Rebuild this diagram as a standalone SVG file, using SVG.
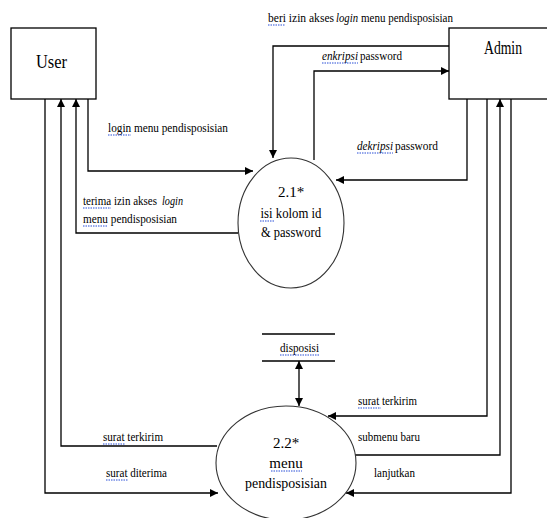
<svg xmlns="http://www.w3.org/2000/svg" width="547" height="518" viewBox="0 0 547 518">
<defs>
<marker id="ah" viewBox="0 0 10 10" refX="10" refY="5" markerWidth="9" markerHeight="8" markerUnits="userSpaceOnUse" orient="auto-start-reverse">
<path d="M0,0 L10,5 L0,10 z" fill="#000"/>
</marker>
<style>
.box{fill:#fff;stroke:#000;stroke-width:1.3}
.proc{fill:#fff;stroke:#333;stroke-width:1.1}
.ln{fill:none;stroke:#000;stroke-width:1.3}
.arr{fill:none;stroke:#000;stroke-width:1.3;marker-end:url(#ah)}
text{font-family:"Liberation Serif","DejaVu Serif",serif}
.lbl{font-size:12px}
.it{font-style:italic}
.nd{font-size:18px}
.pt{font-size:15px;text-anchor:middle}
.sq{fill:none;stroke:#2b4fd8;stroke-width:1.2;stroke-dasharray:1.5 1}
</style>
</defs>
<rect width="547" height="518" fill="#fff"/>
<g id="connectors" fill="#000">
<path class="arr" d="M88,99 V171 H253"/>
<path class="arr" d="M238,233 H76 V99"/>
<path class="arr" d="M217,446 H61 V99"/>
<path class="arr" d="M45,99 V493 H218"/>
<path class="arr" d="M449,46 H273 V158"/>
<path class="arr" d="M314,160 V71 H449"/>
<path class="arr" d="M467,99 V180 H336"/>
<path class="arr" d="M487,99 V416 H328"/>
<path class="arr" d="M355,455 H500 V99"/>
<path class="arr" d="M511,99 V493 H346"/>
<path class="ln" d="M299,361 V406" marker-start="url(#ah)" marker-end="url(#ah)"/>
<text class="lbl" x="268" y="22" textLength="66" lengthAdjust="spacingAndGlyphs">beri izin akses</text>
<text class="lbl it" x="336" y="22" textLength="22" lengthAdjust="spacingAndGlyphs">login</text>
<text class="lbl" x="361" y="22" textLength="92" lengthAdjust="spacingAndGlyphs">menu pendisposisian</text>
<text class="lbl it" x="322" y="60" textLength="36" lengthAdjust="spacingAndGlyphs">enkripsi</text>
<text class="lbl" x="360" y="60" textLength="42" lengthAdjust="spacingAndGlyphs">password</text>
<text class="lbl it" x="357" y="150" textLength="36" lengthAdjust="spacingAndGlyphs">dekripsi</text>
<text class="lbl" x="395" y="150" textLength="43" lengthAdjust="spacingAndGlyphs">password</text>
<text class="lbl" x="108" y="132" textLength="120" lengthAdjust="spacingAndGlyphs">login menu pendisposisian</text>
<text class="lbl" x="83" y="205" textLength="74" lengthAdjust="spacingAndGlyphs">terima izin akses</text>
<text class="lbl it" x="162" y="205" textLength="21" lengthAdjust="spacingAndGlyphs">login</text>
<text class="lbl" x="83" y="223" textLength="94" lengthAdjust="spacingAndGlyphs">menu pendisposisian</text>
<text class="lbl" x="358" y="405" textLength="59" lengthAdjust="spacingAndGlyphs">surat terkirim</text>
<text class="lbl" x="358" y="441" textLength="62" lengthAdjust="spacingAndGlyphs">submenu baru</text>
<text class="lbl" x="374" y="477" textLength="41" lengthAdjust="spacingAndGlyphs">lanjutkan</text>
<text class="lbl" x="103" y="441" textLength="60" lengthAdjust="spacingAndGlyphs">surat terkirim</text>
<text class="lbl" x="106" y="477" textLength="61" lengthAdjust="spacingAndGlyphs">surat diterima</text>
<path class="sq" d="M268,25 H285 M322,63 H358 M357,153 H393 M108,135 H131 M83,208 H111 M83,226 H107 M358,408 H381 M103,444 H125 M106,480 H128"/>
</g>
<g id="user" fill="#000">
<rect class="box" x="11" y="28" width="85" height="71"/>
<text class="nd" x="36" y="68" textLength="31" lengthAdjust="spacingAndGlyphs">User</text>
</g>
<g id="admin" fill="#000">
<rect class="box" x="449" y="28" width="102" height="71"/>
<text class="nd" x="484" y="54" textLength="38" lengthAdjust="spacingAndGlyphs">Admin</text>
</g>
<g id="p21" fill="#000">
<ellipse class="proc" cx="291" cy="223" rx="53" ry="65"/>
<text class="pt" x="291" y="197">2.1*</text>
<text class="pt" x="291" y="218" textLength="61" lengthAdjust="spacingAndGlyphs">isi kolom id</text>
<text class="pt" x="291" y="237" textLength="60" lengthAdjust="spacingAndGlyphs">&amp; password</text>
<path class="sq" d="M260,221 H275"/>
</g>
<g id="p22" fill="#000">
<ellipse class="proc" cx="286" cy="463" rx="70" ry="57"/>
<text class="pt" x="286" y="448">2.2*</text>
<text class="pt" x="286" y="468">menu</text>
<text class="pt" x="286" y="488" textLength="82" lengthAdjust="spacingAndGlyphs">pendisposisian</text>
<path class="sq" d="M271,471 H302"/>
</g>
<g id="ds-disposisi" fill="#000">
<path class="ln" d="M262,334 H335 M262,361 H335"/>
<text class="lbl" x="280" y="352" textLength="39" lengthAdjust="spacingAndGlyphs">disposisi</text>
<path class="sq" d="M280,355 H319"/>
</g>
</svg>
